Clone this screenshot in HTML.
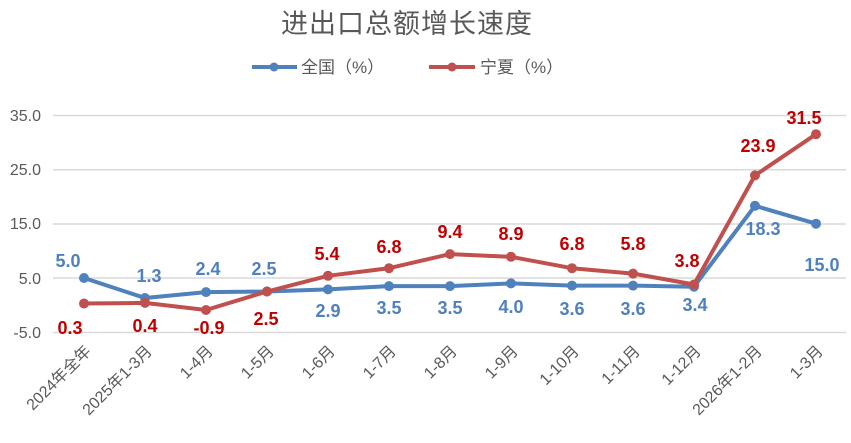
<!DOCTYPE html>
<html><head><meta charset="utf-8"><style>
body{margin:0;background:#fff}
svg{display:block}
text{font-family:"Liberation Sans","Noto Sans CJK SC",sans-serif}
</style></head><body>
<svg width="851" height="443" viewBox="0 0 851 443">
<text x="407" y="33" font-size="27" fill="#595959" text-anchor="middle" letter-spacing="1">进出口总额增长速度</text>
<line x1="252" y1="67" x2="297" y2="67" stroke="#4f81bd" stroke-width="4"/><circle cx="274" cy="67" r="4.5" fill="#4f81bd"/>
<text x="301" y="73" font-size="17" fill="#595959">全国（%）</text>
<line x1="429" y1="67" x2="475" y2="67" stroke="#c0504d" stroke-width="4"/><circle cx="452" cy="67" r="4.5" fill="#c0504d"/>
<text x="480" y="73" font-size="17" fill="#595959">宁夏（%）</text>
<g stroke="#d9d9d9" stroke-width="1.5">
<line x1="53" y1="115.5" x2="846" y2="115.5"/><line x1="53" y1="169.7" x2="846" y2="169.7"/><line x1="53" y1="224" x2="846" y2="224"/><line x1="53" y1="278" x2="846" y2="278"/><line x1="53" y1="332.5" x2="846" y2="332.5"/>
</g>
<g font-size="16" fill="#595959" text-anchor="end">
<text x="41" y="121">35.0</text><text x="41" y="175">25.0</text><text x="41" y="229">15.0</text><text x="41" y="284">5.0</text><text x="41" y="338">-5.0</text>
</g>
<g font-size="16" fill="#595959" text-anchor="end">
<text transform="translate(92,352) rotate(-45)">2024年全年</text>
<text transform="translate(153,352) rotate(-45)">2025年1-3月</text>
<text transform="translate(214,352) rotate(-45)">1-4月</text>
<text transform="translate(275,352) rotate(-45)">1-5月</text>
<text transform="translate(336,352) rotate(-45)">1-6月</text>
<text transform="translate(397,352) rotate(-45)">1-7月</text>
<text transform="translate(458,352) rotate(-45)">1-8月</text>
<text transform="translate(519,352) rotate(-45)">1-9月</text>
<text transform="translate(580,352) rotate(-45)">1-10月</text>
<text transform="translate(641,352) rotate(-45)">1-11月</text>
<text transform="translate(702,352) rotate(-45)">1-12月</text>
<text transform="translate(763,352) rotate(-45)">2026年1-2月</text>
<text transform="translate(824,352) rotate(-45)">1-3月</text>
</g>
<polyline fill="none" stroke="#4f81bd" stroke-width="4" stroke-linejoin="round" points="84,278 145,298 206,292.1 267,291.5 328,289.4 389,286.1 450,286.1 511,283.4 572,285.6 633,285.6 694,286.7 755,205.8 816,223.7"/>
<g fill="#4f81bd"><circle cx="84" cy="278" r="5"/><circle cx="145" cy="298" r="5"/><circle cx="206" cy="292.1" r="5"/><circle cx="267" cy="291.5" r="5"/><circle cx="328" cy="289.4" r="5"/><circle cx="389" cy="286.1" r="5"/><circle cx="450" cy="286.1" r="5"/><circle cx="511" cy="283.4" r="5"/><circle cx="572" cy="285.6" r="5"/><circle cx="633" cy="285.6" r="5"/><circle cx="694" cy="286.7" r="5"/><circle cx="755" cy="205.8" r="5"/><circle cx="816" cy="223.7" r="5"/></g>
<polyline fill="none" stroke="#c0504d" stroke-width="4" stroke-linejoin="round" points="84,303.5 145,302.9 206,310 267,291.5 328,275.8 389,268.2 450,254.1 511,256.8 572,268.2 633,273.6 694,284.5 755,175.4 816,134.2"/>
<g fill="#c0504d"><circle cx="84" cy="303.5" r="5"/><circle cx="145" cy="302.9" r="5"/><circle cx="206" cy="310" r="5"/><circle cx="267" cy="291.5" r="5"/><circle cx="328" cy="275.8" r="5"/><circle cx="389" cy="268.2" r="5"/><circle cx="450" cy="254.1" r="5"/><circle cx="511" cy="256.8" r="5"/><circle cx="572" cy="268.2" r="5"/><circle cx="633" cy="273.6" r="5"/><circle cx="694" cy="284.5" r="5"/><circle cx="755" cy="175.4" r="5"/><circle cx="816" cy="134.2" r="5"/></g>
<g font-size="18" font-weight="bold" fill="#4f81bd" text-anchor="middle">
<text x="68" y="267">5.0</text><text x="149" y="282">1.3</text><text x="208" y="275">2.4</text><text x="264" y="275">2.5</text><text x="328" y="317">2.9</text><text x="389" y="314">3.5</text><text x="450" y="314">3.5</text><text x="511" y="313">4.0</text><text x="572" y="315">3.6</text><text x="633" y="315">3.6</text><text x="695" y="311">3.4</text><text x="763" y="235">18.3</text><text x="822" y="271">15.0</text>
</g>
<g font-size="18" font-weight="bold" fill="#c00000" text-anchor="middle">
<text x="70" y="334">0.3</text><text x="145" y="332">0.4</text><text x="209" y="334">-0.9</text><text x="266" y="325">2.5</text><text x="327" y="260">5.4</text><text x="389" y="253">6.8</text><text x="450" y="238">9.4</text><text x="511" y="240">8.9</text><text x="572" y="250">6.8</text><text x="633" y="250">5.8</text><text x="687" y="267">3.8</text><text x="758" y="152">23.9</text><text x="804" y="124">31.5</text>
</g>
</svg>
</body></html>
